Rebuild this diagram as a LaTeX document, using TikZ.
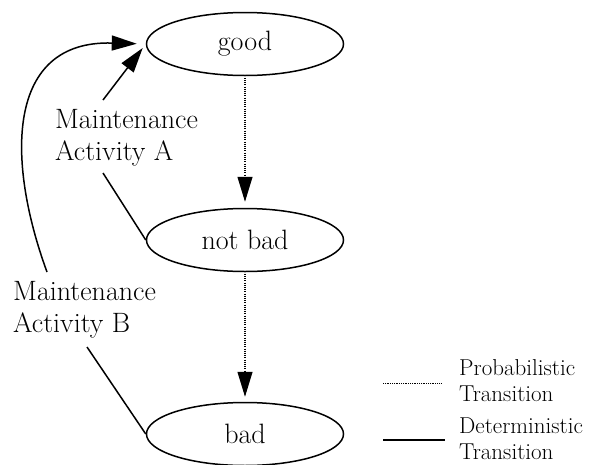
\documentclass[tikz,border=0pt]{standalone}
\usetikzlibrary{shapes.geometric,arrows.meta}
\begin{document}
\begin{tikzpicture}[x=1pt,y=-1pt,
  state/.style={ellipse,draw,line width=1.5pt,minimum width=197pt,minimum height=63pt,inner sep=0pt,font=\fontsize{28}{32}\selectfont},
  lbl/.style={align=left,inner sep=0pt,font=\fontsize{28}{32}\selectfont},
  leg/.style={align=left,inner sep=0pt,font=\fontsize{23}{26}\selectfont},
  tip/.style={-{Triangle[length=25pt,width=15pt]}},
  prob/.style={line width=1.1pt,dash pattern=on 1.1pt off 1.1pt},
  det/.style={line width=1.5pt}]
\path[use as bounding box] (0,0) rectangle (598,464);
\node[state] (good) at (245,44) {good};
\node[state] (notbad) at (245,240) {not bad};
\node[state] (bad) at (245,434) {bad};
\node[lbl,anchor=north west] (maintA) at (55,109) {Maintenance\\Activity A};
\node[lbl,anchor=north west] (maintB) at (13,281) {Maintenance\\Activity B};
\coordinate (a1) at (103,173);
\coordinate (a2) at (103,100);
\coordinate (b1) at (87,347);
\coordinate (b2) at (47,272);
\draw[prob,tip,shorten <=1.5pt,shorten >=6pt] (good.south) -- (notbad.north);
\draw[prob,tip,shorten <=1.5pt,shorten >=5pt] (notbad.south) -- (bad.north);
\draw[det] (notbad.west) -- (a1);
\draw[det,tip,shorten >=5pt] (a2) -- (good.west);
\draw[det] (bad.west) -- (b1);
\draw[det,tip,shorten >=9pt] (b2) .. controls (6,160) and (6,40) .. (good.west);
\coordinate (p1) at (383,383);
\coordinate (p2) at (442,383);
\coordinate (d1) at (383,440);
\coordinate (d2) at (445,440);
\draw[line width=0.8pt,dash pattern=on 0.9pt off 0.9pt] (p1) -- (p2);
\draw[det] (d1) -- (d2);
\node[leg,anchor=north west] (lp) at (459,359) {Probabilistic\\Transition};
\node[leg,anchor=north west] (ld) at (459,417.3) {Deterministic\\Transition};
\end{tikzpicture}
\end{document}
